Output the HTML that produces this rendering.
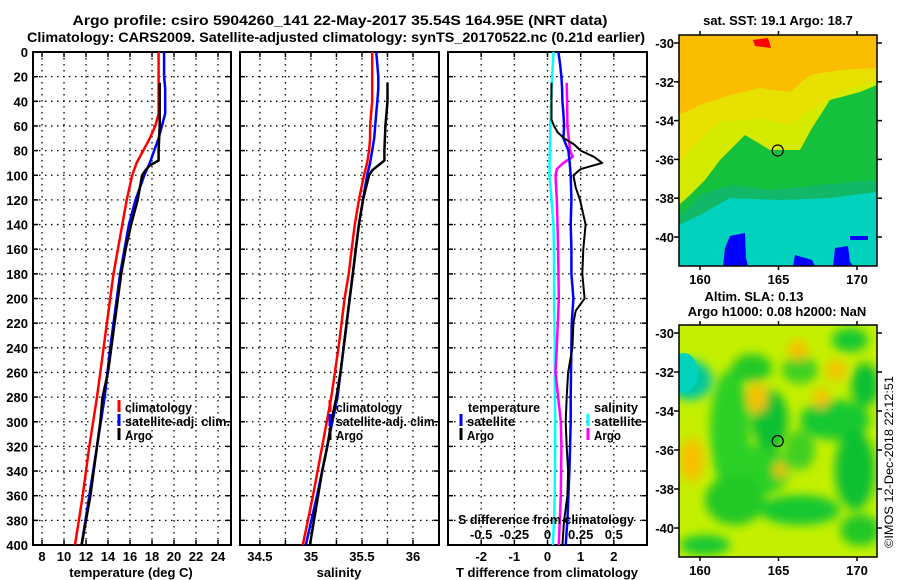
<!DOCTYPE html>
<html><head><meta charset="utf-8">
<style>
html,body{margin:0;padding:0;background:#fff;}
svg{display:block;font-family:"Liberation Sans",sans-serif;font-weight:bold;}
</style></head>
<body>
<svg id="chart" width="900" height="580" viewBox="0 0 900 580" xmlns="http://www.w3.org/2000/svg">
<text x="340" y="25" font-size="14" text-anchor="middle" textLength="535" lengthAdjust="spacingAndGlyphs">Argo profile: csiro 5904260_141 22-May-2017 35.54S 164.95E (NRT data)</text>
<text x="336" y="42" font-size="14" text-anchor="middle" textLength="618" lengthAdjust="spacingAndGlyphs">Climatology: CARS2009. Satellite-adjusted climatology: synTS_20170522.nc (0.21d earlier)</text>
<g id="panels"></g>
<g id="maps"></g>
<text transform="translate(893,548) rotate(-90)" font-size="12" font-weight="normal" textLength="172" lengthAdjust="spacingAndGlyphs">©IMOS 12-Dec-2018 22:12:51</text>
</svg>
<script>
// ---------- data ----------
const depthsT = [0,10,20,30,40,50,60,70,80,90,100,120,140,160,180,200,240,280,320,360,400];
const climT   = [18.6,18.6,18.6,18.6,18.6,18.6,18.3,17.8,17.2,16.6,16.2,15.7,15.3,14.9,14.5,14.2,13.6,13.0,12.3,11.7,11.0];
const satT    = [19.1,19.1,19.1,19.2,19.2,19.2,18.9,18.6,18.2,17.8,17.3,16.5,15.9,15.5,15.1,14.8,14.2,13.7,13.0,12.3,11.6];
const argoDepths = [25,40,60,80,88,92,96,100,110,120,140,160,180,200,220,240,260,280,300,320,340,360,380,400];
const argoT   = [18.7,18.7,18.7,18.6,18.6,17.8,17.4,17.1,16.9,16.7,16.1,15.6,15.2,14.9,14.6,14.3,14.0,13.5,13.3,13.0,12.7,12.4,12.0,11.6];
const climS   = [35.60,35.60,35.60,35.60,35.60,35.59,35.58,35.58,35.57,35.55,35.52,35.47,35.43,35.40,35.37,35.33,35.27,35.20,35.11,35.02,34.92];
const satS    = [35.64,35.65,35.66,35.66,35.65,35.64,35.63,35.62,35.60,35.58,35.55,35.51,35.47,35.44,35.41,35.38,35.32,35.26,35.16,35.06,34.95];
const argoS   = [35.75,35.75,35.73,35.72,35.72,35.66,35.60,35.57,35.54,35.51,35.47,35.44,35.41,35.38,35.35,35.32,35.29,35.25,35.20,35.16,35.11,35.07,35.03,34.99];
const diffDepths = [0,10,20,30,40,50,60,70,80,90,100,120,140,160,180,200,220,240,260,280,300,320,340,360,380,400];
const satTdiff = [0.33,0.38,0.42,0.44,0.45,0.48,0.50,0.48,0.63,0.67,0.70,0.72,0.70,0.72,0.72,0.78,0.73,0.72,0.71,0.70,0.70,0.68,0.66,0.63,0.60,0.55];
const satSdiff = [0.045,0.04,0.035,0.03,0.028,0.025,0.02,0.02,0.018,0.016,0.015,0.03,0.045,0.048,0.05,0.05,0.052,0.055,0.055,0.056,0.058,0.058,0.056,0.054,0.05,0.04];
const argoDiffDepths = [25,40,55,60,65,70,75,80,85,90,95,100,110,120,140,160,180,200,210,220,240,260,280,300,320,340,360,380,400];
const argoTdiff = [0.12,0.12,0.12,0.2,0.3,0.5,0.8,1.0,1.4,1.65,1.0,0.78,0.85,0.98,1.15,1.08,1.05,1.12,0.85,0.78,0.75,0.62,0.58,0.55,0.58,0.62,0.6,0.5,0.45];
const argoSdepths = [25,40,60,80,85,90,95,100,120,140,160,200,240,260,300,320,360,400];
const argoSdiff = [0.145,0.148,0.15,0.17,0.19,0.12,0.07,0.06,0.07,0.075,0.08,0.085,0.07,0.06,0.1,0.105,0.1,0.085];
const depthTicks = [0,20,40,60,80,100,120,140,160,180,200,220,240,260,280,300,320,340,360,380,400];
const tempTicks = [8,10,12,14,16,18,20,22,24];
const salTicks = [34.5,35,35.5,36];
const salGrid = [34.5,34.75,35,35.25,35.5,35.75,36];
const tdiffTicks = [-2,-1,0,1,2];
const sdiffTicks = [-0.5,-0.25,0,0.25,0.5];
const lonTicks = [160,165,170];
const latTicks = [-30,-32,-34,-36,-38,-40];
const argoLon = 164.95, argoLat = -35.54;

const NS = 'http://www.w3.org/2000/svg';
function mk(tag, attrs, parent, text){
  const e = document.createElementNS(NS, tag);
  for (const k in attrs) e.setAttribute(k, attrs[k]);
  if (text !== undefined) e.textContent = text;
  parent.appendChild(e);
  return e;
}
const TOP = 52, BOT = 545;
const yD = d => TOP + d * (BOT - TOP) / 400;
const panels = document.getElementById('panels');

function panel(x0, x1, vmin, vmax, name){
  const g = mk('g', {}, panels);
  
  
  const sx = v => x0 + (v - vmin) * (x1 - x0) / (vmax - vmin);
  return {g, sx};
}
function grid(P, x0, x1, xs){
  xs.forEach(v => {
    const l = mk('line', {x1:P.sx(v), x2:P.sx(v), y1:TOP, y2:BOT, stroke:'#000', 'stroke-width':1.3, 'stroke-dasharray':'1.5 4.5'}, P.g);
    
    
  });
  depthTicks.forEach(d => {
    if (d === 0 || d === 400) return;
    const l = mk('line', {x1:x0, x2:x1, y1:yD(d), y2:yD(d), stroke:'#000', 'stroke-width':1.3, 'stroke-dasharray':'1.5 4.5'}, P.g);
    
    
    [x0, x1-5].forEach(xx => mk('line', {x1:xx, x2:xx+5, y1:yD(d), y2:yD(d), stroke:'#000','stroke-width':1.5}, P.g));
  });
  xs.forEach(v => {
    mk('line', {x1:P.sx(v), x2:P.sx(v), y1:TOP, y2:TOP+5, stroke:'#000','stroke-width':1.5}, P.g);
    mk('line', {x1:P.sx(v), x2:P.sx(v), y1:BOT-5, y2:BOT, stroke:'#000','stroke-width':1.5}, P.g);
  });
  const r = mk('rect', {x:x0, y:TOP, width:x1-x0, height:BOT-TOP, fill:'none', stroke:'#000', 'stroke-width':2}, P.g);
  
  
}
function line(P, xs, ds, color, w, name){
  const pts = xs.map((v,i) => P.sx(v).toFixed(1) + ',' + yD(ds[i]).toFixed(1)).join(' ');
  const l = mk('polyline', {points:pts, fill:'none', stroke:color, 'stroke-width':w, 'stroke-linejoin':'round'}, P.g);
  
  
}
function txt(parent, x, y, s, size, anchor, name, len){
  const a = {x:x, y:y, 'font-size':size, 'text-anchor':anchor||'start'};
  if (len) { a.textLength = len; a.lengthAdjust = 'spacingAndGlyphs'; }
  const t = mk('text', a, parent, s);
  
  
  return t;
}
function legendMark(parent, x, y, color, name){
  const l = mk('line', {x1:x, x2:x, y1:y-11, y2:y+1, stroke:color, 'stroke-width':3}, parent);
  
  
}

// depth labels
depthTicks.forEach(d => {
  txt(panels, 28, yD(d) + 5, String(d), 13, 'end', 'y-tick-label');
});

// Panel 1: temperature
const P1 = panel(33, 231, 7.18, 25.18, 'temperature-panel');
grid(P1, 33, 231, tempTicks);
line(P1, climT, depthsT, '#ff0000', 2.5, 'climatology-temperature-line');
line(P1, satT, depthsT, '#0000ff', 2.5, 'satellite-temperature-line');
line(P1, argoT, argoDepths, '#000000', 2.5, 'argo-temperature-line');
tempTicks.forEach(v => txt(P1.g, P1.sx(v), 561, String(v), 13, 'middle', 'x-tick-label'));
txt(P1.g, 131, 577, 'temperature (deg C)', 13, 'middle', 'x-axis-title');
legendMark(P1.g, 119, 411, '#ff0000', 'legend-climatology-mark');
txt(P1.g, 125, 412, 'climatology', 13, 'start', 'legend-climatology', 67);
legendMark(P1.g, 119, 425, '#0000ff', 'legend-satellite-mark');
txt(P1.g, 125, 426, 'satellite-adj. clim.', 13, 'start', 'legend-satellite', 105);
legendMark(P1.g, 119, 439, '#000', 'legend-argo-mark');
txt(P1.g, 125, 440, 'Argo', 13, 'start', 'legend-argo', 27);

// Panel 2: salinity
const P2 = panel(240, 439, 34.305, 36.255, 'salinity-panel');
grid(P2, 240, 439, salGrid);
line(P2, climS, depthsT, '#ff0000', 2.5, 'climatology-salinity-line');
line(P2, satS, depthsT, '#0000ff', 2.5, 'satellite-salinity-line');
line(P2, argoS, argoDepths, '#000000', 2.5, 'argo-salinity-line');
salTicks.forEach(v => txt(P2.g, P2.sx(v), 561, String(v), 13, 'middle', 'x-tick-label'));
txt(P2.g, 339, 577, 'salinity', 13, 'middle', 'x-axis-title');
legendMark(P2.g, 330, 411, '#ff0000', 'legend-climatology-mark');
txt(P2.g, 336, 412, 'climatology', 13, 'start', 'legend-climatology', 66);
legendMark(P2.g, 330, 425, '#0000ff', 'legend-satellite-mark');
txt(P2.g, 336, 426, 'satellite-adj. clim.', 13, 'start', 'legend-satellite', 102);
legendMark(P2.g, 330, 439, '#000', 'legend-argo-mark');
txt(P2.g, 336, 440, 'Argo', 13, 'start', 'legend-argo', 27);

// Panel 3: differences
const P3 = panel(448, 647, -3, 3, 'difference-panel');
const P3s = {g:P3.g, sx: v => P3.sx(v*4)};
grid(P3, 448, 647, tdiffTicks);
line(P3s, satSdiff, diffDepths, '#00ffff', 2.5, 'satellite-salinity-diff-line');
line(P3s, argoSdiff, argoSdepths, '#ff00ff', 2.5, 'argo-salinity-diff-line');
line(P3, satTdiff, diffDepths, '#0000ff', 2.5, 'satellite-temperature-diff-line');
line(P3, argoTdiff, argoDiffDepths, '#000000', 2, 'argo-temperature-diff-line');
tdiffTicks.forEach(v => txt(P3.g, P3.sx(v), 561, String(v), 13, 'middle', 'x-tick-label'));
txt(P3.g, 547, 577, 'T difference from climatology', 13, 'middle', 'x-axis-title');
txt(P3.g, 546, 524, 'S difference from climatology', 13, 'middle', 'secondary-axis-title', 176);
sdiffTicks.forEach(v => txt(P3.g, P3s.sx(v), 539, String(v), 13, 'middle', 'secondary-tick-label'));
txt(P3.g, 468, 412, 'temperature', 13, 'start', 'legend-temperature-heading', 72);
legendMark(P3.g, 461, 425, '#0000ff', 'legend-t-satellite-mark');
txt(P3.g, 467, 426, 'satellite', 13, 'start', 'legend-t-satellite', 48);
legendMark(P3.g, 461, 439, '#000', 'legend-t-argo-mark');
txt(P3.g, 467, 440, 'Argo', 13, 'start', 'legend-t-argo', 27);
txt(P3.g, 594, 412, 'salinity', 13, 'start', 'legend-salinity-heading', 44);
legendMark(P3.g, 588, 425, '#00ffff', 'legend-s-satellite-mark');
txt(P3.g, 594, 426, 'satellite', 13, 'start', 'legend-s-satellite', 48);
legendMark(P3.g, 588, 439, '#ff00ff', 'legend-s-argo-mark');
txt(P3.g, 594, 440, 'Argo', 13, 'start', 'legend-s-argo', 27);

// ---------- maps ----------
const maps = document.getElementById('maps');
function mapFrame(y0, y1, latAt30, pxPerLat, name){
  const g = mk('g', {}, maps);
  
  
  const x0 = 679, x1 = 877;
  const lx = lon => 700 + (lon - 160) * 15.7;
  const ly = lat => latAt30 + (-30 - lat) * pxPerLat;
  return {g, x0, x1, y0, y1, lx, ly};
}
function mapAxes(M){
  const g = M.g;
  mk('rect', {x:M.x0, y:M.y0, width:M.x1-M.x0, height:M.y1-M.y0, fill:'none', stroke:'#000', 'stroke-width':1.5}, g);
  latTicks.forEach(l => {
    const y = M.ly(l);
    mk('line', {x1:M.x0-5, x2:M.x0, y1:y, y2:y, stroke:'#000','stroke-width':1.5}, g);
    mk('line', {x1:M.x1, x2:M.x1+5, y1:y, y2:y, stroke:'#000','stroke-width':1.5}, g);
    txt(g, M.x0-5, y+5, String(l), 13, 'end', 'lat-tick-label');
  });
  lonTicks.forEach(l => {
    const x = M.lx(l);
    mk('line', {x1:x, x2:x, y1:M.y0-4, y2:M.y0, stroke:'#000','stroke-width':1.5}, g);
    mk('line', {x1:x, x2:x, y1:M.y1, y2:M.y1+4, stroke:'#000','stroke-width':1.5}, g);
    txt(g, x, M.y1+18, String(l), 13, 'middle', 'lon-tick-label');
  });
  const c = mk('circle', {cx:M.lx(argoLon), cy:M.ly(argoLat), r:5.5, fill:'none', stroke:'#000','stroke-width':1.2}, g);
  
  
}
// SST map
const M1 = mapFrame(35, 266, 43, 19.4, 'sst-map');
(function(){
  const g = M1.g;
  const clip = mk('clipPath', {id:'c1'}, g);
  mk('rect', {x:679, y:35, width:198, height:231}, clip);
  const b = mk('g', {'clip-path':'url(#c1)'}, g);
  mk('rect', {x:679,y:35,width:198,height:231,fill:'#fbbd00'}, b);
  mk('path', {d:'M679,115 L700,105 L730,95 L760,88 L790,92 L810,75 L840,70 L877,68 L877,266 L679,266 Z', fill:'#e8e000'}, b);
  mk('path', {d:'M679,165 L690,150 L700,140 L720,122 L760,118 L790,125 L810,110 L840,92 L877,80 L877,266 L679,266 Z', fill:'#ccf000', opacity:0.7}, b);
  mk('path', {d:'M679,205 L690,195 L705,180 L720,160 L745,135 L770,150 L800,150 L812,128 L830,100 L860,92 L877,85 L877,266 L679,266 Z', fill:'#14c03c'}, b);
  mk('path', {d:'M679,218 L700,195 L730,185 L770,190 L820,185 L877,180 L877,266 L679,266 Z', fill:'#10b868'}, b);
  mk('path', {d:'M679,225 L700,215 L730,198 L780,200 L830,198 L877,192 L877,266 L679,266 Z', fill:'#00d2be'}, b);
  mk('path', {d:'M723,266 L725,248 L730,236 L745,233 L746,258 L748,266 Z', fill:'#0000ff'}, b);
  mk('path', {d:'M793,266 L795,255 L812,260 L815,266 Z', fill:'#0000ff'}, b);
  mk('path', {d:'M833,266 L835,248 L848,246 L850,262 L853,266 Z', fill:'#0000ff'}, b);
  mk('path', {d:'M850,236 L868,236 L868,240 L850,240 Z', fill:'#0000ff'}, b);
  mk('path', {d:'M753,40 L768,38 L771,48 L755,46 Z', fill:'#ff0000'}, b);
  mapAxes(M1);
  txt(g, 778, 25, 'sat. SST: 19.1 Argo: 18.7', 13, 'middle', 'sst-map-title');
})();
// SLA map
const M2 = mapFrame(325, 557, 333, 19.5, 'sla-map');
(function(){
  const g = M2.g;
  const clip = mk('clipPath', {id:'c2'}, g);
  mk('rect', {x:679, y:325, width:198, height:232}, clip);
  const defs = mk('defs', {}, g);
  const f = mk('filter', {id:'blur'}, defs);
  mk('feGaussianBlur', {stdDeviation:5}, f);
  const b = mk('g', {'clip-path':'url(#c2)'}, g);
  mk('rect', {x:679,y:325,width:198,height:232,fill:'#c4f000'}, b);
  const bl = mk('g', {filter:'url(#blur)'}, b);
  const blobs = [
    [730,430,20,60,'#2ad028'],[760,470,30,25,'#2ad028'],[770,420,18,30,'#10c030'],[735,500,30,25,'#20c828'],
    [835,420,35,20,'#18c830'],[855,470,20,40,'#10c030'],[800,510,40,15,'#18c830'],[705,545,25,10,'#18c830'],
    [752,368,20,14,'#20c828'],[850,340,18,12,'#18c830'],[865,385,14,22,'#10c030'],[800,370,18,14,'#40d020'],
    [690,380,22,20,'#00c8a0'],[860,530,20,16,'#20c828'],[800,450,15,20,'#40d020']
  ];
  blobs.forEach(o => mk('ellipse', {cx:o[0], cy:o[1], rx:o[2], ry:o[3], fill:o[4]}, bl));
  const warm = [[692,460,12,22],[757,398,10,15],[798,350,10,10],[836,370,10,10],[780,470,6,8],[821,398,8,10]];
  warm.forEach(o => mk('ellipse', {cx:o[0], cy:o[1], rx:o[2], ry:o[3], fill:'#f8c000'}, bl));
  mk('ellipse', {cx:684, cy:373, rx:14, ry:20, fill:'#00d2be'}, b);
  mapAxes(M2);
  txt(g, 754, 301, 'Altim. SLA: 0.13', 13, 'middle', 'sla-map-title');
  txt(g, 777, 316, 'Argo h1000: 0.08 h2000: NaN', 13, 'middle', 'sla-map-subtitle');
})();
</script>
</body></html>
